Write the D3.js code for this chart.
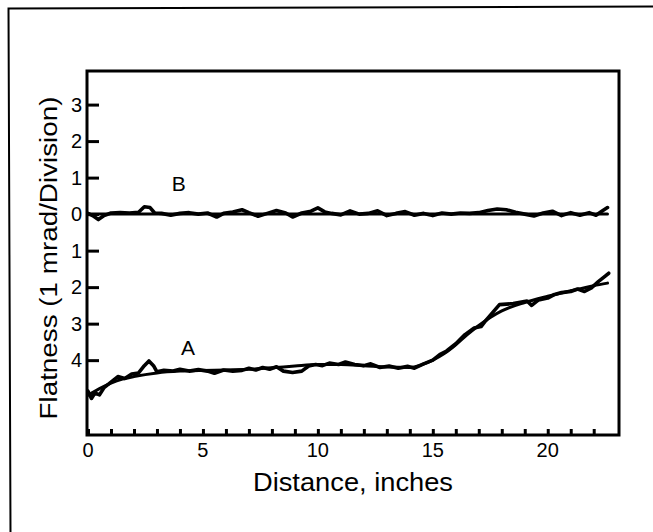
<!DOCTYPE html>
<html>
<head>
<meta charset="utf-8">
<script src="https://cdn.jsdelivr.net/npm/d3@7"></script>
<style>
  body { margin: 0; background: #fff; }
  svg { display: block; }
  text { font-family: "Liberation Sans", Arial, sans-serif; fill: #000; }
</style>
</head>
<body>
<div id="chart"></div>
<script>
// Flatness trace, curves A and B (1 mrad per division)

// axis ticks
const xTicks = d3.range(0, 23);
const xTickLabels = [0, 5, 10, 15, 20];
const yTicks = [-4, -3, -2, -1, 0, 1, 2, 3];

// curve B - smooth fit
const bSmoothX = [0, 22.6];
const bSmoothV = [0, 0];

// curve B - measured trace
const bTraceX = [0, 0.2, 0.45, 0.7, 1.0, 1.4, 1.8, 2.2, 2.45, 2.7, 2.9, 3.2, 3.6, 4.0, 4.4, 4.8, 5.2, 5.6, 5.9, 6.3,
  6.7, 7.0, 7.4, 7.8, 8.2, 8.6, 8.9, 9.3, 9.7, 10.0, 10.3, 10.6, 11.0, 11.4, 11.8, 12.2, 12.6, 13.0, 13.4, 13.8,
  14.2, 14.6, 15.0, 15.4, 15.8, 16.2, 16.6, 17.0, 17.4, 17.8, 18.2, 18.6, 19.0, 19.4, 19.8, 20.2, 20.6, 21.0, 21.4,
  21.8, 22.1, 22.4, 22.6];
const bTraceV = [0.02, -0.04, -0.15, -0.04, 0.03, 0.04, 0.03, 0.05, 0.2, 0.18, 0.03, 0.02, -0.03, 0.02, 0.04, 0.0,
  0.03, -0.08, 0.02, 0.06, 0.12, 0.04, -0.06, 0.02, 0.1, 0.03, -0.08, 0.03, 0.08, 0.17, 0.06, 0.02, -0.02, 0.09, 0.0,
  0.02, 0.09, -0.04, 0.02, 0.07, -0.03, 0.02, -0.04, 0.03, 0.0, 0.03, 0.02, 0.04, 0.1, 0.14, 0.12, 0.05, 0.0, -0.05,
  0.03, 0.08, -0.04, 0.04, -0.03, 0.04, -0.03, 0.1, 0.18];

// curve A - smooth fit
const aSmoothX = [0, 0.5, 1, 1.5, 2, 3, 4, 5, 6, 7, 8, 9, 10, 11, 12, 13, 14, 14.5, 15, 15.5, 16, 16.5, 17, 17.5,
  18, 19, 20, 21, 22, 22.6];
const aSmoothV = [-4.96, -4.78, -4.63, -4.52, -4.45, -4.35, -4.3, -4.28, -4.27, -4.25, -4.21, -4.16, -4.12, -4.12,
  -4.15, -4.19, -4.2, -4.13, -4.0, -3.82, -3.58, -3.3, -3.05, -2.83, -2.65, -2.42, -2.25, -2.1, -1.96, -1.89];

// curve A - measured trace
const aTraceX = [0, 0.15, 0.3, 0.5, 0.7, 1.0, 1.3, 1.6, 1.9, 2.2, 2.45, 2.65, 2.85, 3.0, 3.3, 3.7, 4.0, 4.4, 4.8,
  5.2, 5.5, 5.9, 6.3, 6.7, 7.0, 7.3, 7.6, 7.9, 8.2, 8.5, 8.9, 9.3, 9.6, 9.9, 10.2, 10.5, 10.9, 11.2, 11.6, 12.0,
  12.3, 12.7, 13.1, 13.5, 13.9, 14.2, 14.6, 15.0, 15.3, 15.6, 16.0, 16.4, 16.8, 17.1, 17.3, 17.6, 17.9, 18.5, 19.1,
  19.3, 19.6, 20.0, 20.3, 20.6, 21.0, 21.3, 21.6, 21.9, 22.2, 22.5, 22.65];
const aTraceV = [-4.85, -5.05, -4.9, -4.95, -4.75, -4.6, -4.45, -4.5, -4.38, -4.35, -4.15, -4.02, -4.15, -4.32,
  -4.28, -4.3, -4.25, -4.3, -4.26, -4.3, -4.36, -4.27, -4.3, -4.28, -4.22, -4.27, -4.2, -4.25, -4.18, -4.3, -4.34,
  -4.3, -4.16, -4.12, -4.15, -4.08, -4.12, -4.05, -4.12, -4.15, -4.1, -4.2, -4.16, -4.22, -4.17, -4.22, -4.1, -4.0,
  -3.85, -3.75, -3.55, -3.3, -3.12, -3.08, -2.92, -2.7, -2.48, -2.45, -2.38, -2.5, -2.35, -2.3, -2.2, -2.15, -2.12,
  -2.05, -2.12, -2.02, -1.85, -1.7, -1.62];

// curve letters
const curveLabels = ["B", "A"];
const curveLabelX = [3.95, 4.35];
const curveLabelV = [0.62, -3.85];

const width = 653, height = 532;
const frame = { left: 87, right: 619, top: 71, bottom: 435 };

const svg = d3.select("#chart").append("svg")
  .attr("width", width)
  .attr("height", height);

// outer border (cropped figure box)
svg.append("path")
  .attr("d", "M653,6.5 L8.5,8.5 L10.5,532")
  .attr("fill", "none")
  .attr("stroke", "#000")
  .attr("stroke-width", 2);

const x = d3.scaleLinear().domain([0, 23.1]).range([frame.left + 1, frame.right]);
const y = d3.scaleLinear().domain([-6.05, 3.92]).range([frame.bottom, frame.top]);

// x ticks point inward from the bottom edge
const xAxis = svg.append("g")
  .attr("transform", `translate(0,${frame.bottom})`)
  .call(d3.axisBottom(x).tickValues(xTicks).tickSizeInner(-6).tickSizeOuter(0).tickFormat(""));
xAxis.select(".domain").remove();
xAxis.selectAll("line").attr("stroke", "#000").attr("stroke-width", 3);

svg.append("g").selectAll("text")
  .data(xTickLabels)
  .join("text")
  .attr("x", d => x(d))
  .attr("y", frame.bottom + 22)
  .attr("text-anchor", "middle")
  .attr("font-size", "20px")
  .text(d => d);

// y ticks point inward from the left edge, labels show magnitude only
const yAxis = svg.append("g")
  .attr("transform", `translate(${frame.left},0)`)
  .call(d3.axisRight(y).tickValues(yTicks).tickSizeInner(12).tickSizeOuter(0).tickFormat(""));
yAxis.select(".domain").remove();
yAxis.selectAll("line").attr("stroke", "#000").attr("stroke-width", 3);

svg.append("g").selectAll("text")
  .data(yTicks)
  .join("text")
  .attr("x", frame.left - 5)
  .attr("y", d => y(d))
  .attr("dy", "0.36em")
  .attr("text-anchor", "end")
  .attr("font-size", "20px")
  .text(d => Math.abs(d));

// plot frame
svg.append("rect")
  .attr("x", frame.left)
  .attr("y", frame.top)
  .attr("width", frame.right - frame.left)
  .attr("height", frame.bottom - frame.top)
  .attr("fill", "none")
  .attr("stroke", "#000")
  .attr("stroke-width", 3);

const line = d3.line()
  .x(d => x(d[0]))
  .y(d => y(d[1]));

const smoothLine = d3.line()
  .x(d => x(d[0]))
  .y(d => y(d[1]))
  .curve(d3.curveMonotoneX);

const series = [
  { xs: bSmoothX, vs: bSmoothV, gen: smoothLine, w: 3 },
  { xs: aSmoothX, vs: aSmoothV, gen: smoothLine, w: 3 },
  { xs: bTraceX, vs: bTraceV, gen: line, w: 3.6 },
  { xs: aTraceX, vs: aTraceV, gen: line, w: 3.6 }
];

series.forEach(s => {
  svg.append("path")
    .datum(s.xs.map((d, i) => [d, s.vs[i]]))
    .attr("d", s.gen)
    .attr("fill", "none")
    .attr("stroke", "#000")
    .attr("stroke-width", s.w)
    .attr("stroke-linejoin", "round")
    .attr("stroke-linecap", "round");
});

svg.append("g").selectAll("text")
  .data(curveLabels)
  .join("text")
  .attr("x", (d, i) => x(curveLabelX[i]))
  .attr("y", (d, i) => y(curveLabelV[i]))
  .attr("text-anchor", "middle")
  .attr("font-size", "21px")
  .text(d => d);

// axis titles
svg.append("text")
  .attr("x", (frame.left + frame.right) / 2)
  .attr("y", 491)
  .attr("text-anchor", "middle")
  .attr("font-size", "25px")
  .attr("textLength", 200)
  .attr("lengthAdjust", "spacingAndGlyphs")
  .text("Distance, inches");

svg.append("text")
  .attr("transform", "translate(57,258) rotate(-90)")
  .attr("text-anchor", "middle")
  .attr("font-size", "23px")
  .attr("textLength", 323)
  .attr("lengthAdjust", "spacingAndGlyphs")
  .text("Flatness (1 mrad/Division)");
</script>
</body>
</html>
